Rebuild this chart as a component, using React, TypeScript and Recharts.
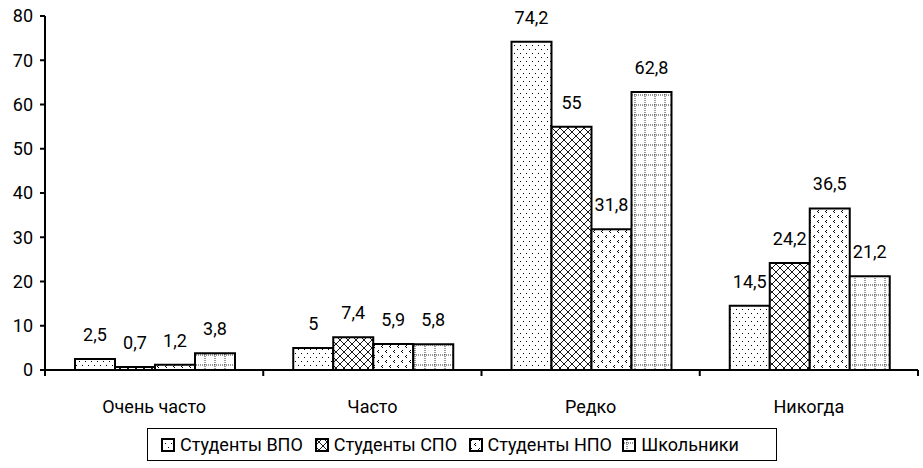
import { BarChart, Bar, XAxis, YAxis, Legend, LabelList } from 'recharts';

const categories = ['Очень часто', 'Часто', 'Редко', 'Никогда'];
const vpo = [2.5, 5, 74.2, 14.5];
const spo = [0.7, 7.4, 55, 24.2];
const npo = [1.2, 5.9, 31.8, 36.5];
const school = [3.8, 5.8, 62.8, 21.2];
const yTicks = [0, 10, 20, 30, 40, 50, 60, 70, 80];

const seriesList = [
  { key: 'vpo', name: 'Студенты ВПО', pattern: 'url(#pVpo)' },
  { key: 'spo', name: 'Студенты СПО', pattern: 'url(#pSpo)' },
  { key: 'npo', name: 'Студенты НПО', pattern: 'url(#pNpo)' },
  { key: 'school', name: 'Школьники', pattern: 'url(#pSchool)' },
];

const data = categories.map((name, i) => ({
  name,
  vpo: vpo[i],
  spo: spo[i],
  npo: npo[i],
  school: school[i],
}));

const FONT = 'Roboto, "Open Sans", sans-serif';
const FS = 18;

const fmt = (v: number | string) => String(v).replace('.', ',');

const Patterns = () => (
  <defs>
    <pattern id="pVpo" width="6" height="8" patternUnits="userSpaceOnUse">
      <rect width="6" height="8" fill="#fff" />
      <rect x="1" y="1" width="1" height="1" fill="#000" />
      <rect x="4" y="5" width="1" height="1" fill="#000" />
    </pattern>
    <pattern id="pSpo" width="8" height="8" patternUnits="userSpaceOnUse">
      <rect width="8" height="8" fill="#fff" />
      <path d="M0,0 L8,8 M8,0 L0,8" stroke="#000" strokeWidth="0.9" />
    </pattern>
    <pattern id="pNpo" width="8" height="10" patternUnits="userSpaceOnUse">
      <rect width="8" height="10" fill="#fff" />
      <rect x="2" y="0" width="1" height="1" fill="#000" />
      <rect x="1" y="1" width="1" height="1" fill="#000" />
      <rect x="2" y="2" width="1" height="1" fill="#000" />
      <rect x="6" y="5" width="1" height="1" fill="#000" />
      <rect x="5" y="6" width="1" height="1" fill="#000" />
      <rect x="6" y="7" width="1" height="1" fill="#000" />
    </pattern>
    <pattern id="pSchool" width="10" height="10" patternUnits="userSpaceOnUse">
      <rect width="10" height="10" fill="#fff" />
      <path d="M0,5 L10,5 M5,0 L5,10" stroke="#000" strokeWidth="0.8" strokeDasharray="1 1" />
    </pattern>
  </defs>
);

const CategoryTick = (props: any) => {
  const { x, y, payload, index } = props;
  const half = payload && payload.offset ? payload.offset : 109;
  const axisY = y - 8;
  return (
    <g>
      <line x1={x - half} y1={axisY} x2={x - half} y2={axisY + 6} stroke="#000" strokeWidth={2} />
      {index === categories.length - 1 && (
        <line x1={x + half} y1={axisY} x2={x + half} y2={axisY + 6} stroke="#000" strokeWidth={2} />
      )}
      <text x={x} y={axisY + 38} textAnchor="middle" dominantBaseline="middle" fontSize={FS} fill="#000" fontFamily={FONT}>
        {payload.value}
      </text>
    </g>
  );
};

const LegendBox = () => (
  <div
    style={{
      width: 630,
      height: 33,
      border: '1px solid #000',
      display: 'flex',
      alignItems: 'center',
      boxSizing: 'border-box',
      paddingLeft: 13,
      fontFamily: FONT,
      fontSize: FS,
      color: '#000',
      lineHeight: 1,
    }}
  >
    {seriesList.map((s) => (
      <div key={s.key} style={{ display: 'flex', alignItems: 'center', width: 172, whiteSpace: 'nowrap' }}>
        <svg width={14} height={14} style={{ marginRight: 5 }}>
          <Patterns />
          <rect x={1} y={1} width={12} height={12} fill={s.pattern} stroke="#000" strokeWidth={2} />
        </svg>
        <span>{s.name}</span>
      </div>
    ))}
  </div>
);

export default function App() {
  return (
    <div style={{ position: 'absolute', left: 0, top: 0, width: 923, height: 468, background: '#fff' }}>
      <BarChart
        width={923}
        height={468}
        data={data}
        margin={{ top: 16, right: 5, left: 0, bottom: 5 }}
        barCategoryGap={30}
        barGap={0}
      >
        <Patterns />
        <XAxis
          dataKey="name"
          axisLine={{ stroke: '#000', strokeWidth: 2 }}
          tickLine={false}
          tick={<CategoryTick />}
          interval={0}
          height={60}
        />
        <YAxis
          domain={[0, 80]}
          ticks={yTicks}
          width={45}
          axisLine={{ stroke: '#000', strokeWidth: 2 }}
          tickLine={{ stroke: '#000', strokeWidth: 2 }}
          tickSize={5}
          tick={{ fontSize: FS, fill: '#000', fontFamily: FONT, dx: -5 }}
          interval={0}
        />
        <Legend
          verticalAlign="bottom"
          content={<LegendBox />}
          wrapperStyle={{ left: 147, top: 428, bottom: 'auto', width: 630, height: 33 }}
        />
        {seriesList.map((s) => (
          <Bar
            key={s.key}
            dataKey={s.key}
            name={s.name}
            fill={s.pattern}
            stroke="#000"
            strokeWidth={2}
            isAnimationActive={false}
          >
            <LabelList
              dataKey={s.key}
              position="top"
              offset={18}
              formatter={fmt}
              style={{ fontSize: FS, fill: '#000', fontFamily: FONT }}
            />
          </Bar>
        ))}
      </BarChart>
    </div>
  );
}
